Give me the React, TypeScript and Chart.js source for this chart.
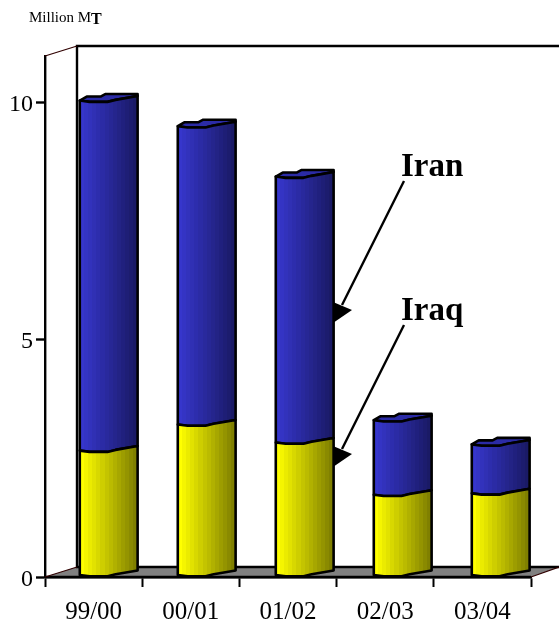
import { useEffect, useRef } from "react";
import { Chart, registerables } from "chart.js";

Chart.register(...registerables);

const seasons = ["99/00", "00/01", "01/02", "02/03", "03/04"];
const iraqValues = [2.63, 3.18, 2.8, 1.7, 1.73];
const iranValues = [7.37, 6.28, 5.6, 1.57, 1.03];

const SERIF = '"Liberation Serif", "Times New Roman", serif';

// Cylinder outline offsets, as fractions of the width and pixels above the value line.
const frontWave: [number, number][] = [[0, 1.5], [0.17, 0.2], [0.48, 0.2], [0.62, 2.2], [1, 6]];
const backWave: [number, number][] = [[1, 8], [0.44, 8], [0.36, 5.5], [0.12, 5.5], [0, 1.5]];

const DEPTH_X = 32;
const DEPTH_Y = 10;
const BAR_SHIFT = 14.7;
const BAR_PITCH = 98 / 97.2;

function banded(ctx: CanvasRenderingContext2D, x: number, w: number, from: number[], to: number[]) {
  const g = ctx.createLinearGradient(x, 0, x + w, 0);
  const bands = 14;
  for (let i = 0; i < bands; i++) {
    const t = i / (bands - 1);
    const c = from.map((v, k) => Math.round(v + (to[k] - v) * t));
    const css = `rgb(${c[0]},${c[1]},${c[2]})`;
    g.addColorStop(i / bands, css);
    g.addColorStop((i + 1) / bands, css);
  }
  return g;
}

function drawCylinder(
  ctx: CanvasRenderingContext2D,
  x: number,
  w: number,
  top: number,
  bottom: number,
  from: number[],
  to: number[],
  withCap: boolean,
) {
  ctx.save();
  ctx.lineJoin = "round";
  ctx.strokeStyle = "#000";
  ctx.lineWidth = 2.6;

  const wave = (y: number, reverse = false) => {
    const pts = reverse ? [...frontWave].reverse() : frontWave;
    pts.forEach(([fx, dy]) => ctx.lineTo(x + fx * w, y - dy));
  };

  if (withCap) {
    ctx.beginPath();
    ctx.moveTo(x, top - frontWave[0][1]);
    wave(top);
    backWave.forEach(([fx, dy]) => ctx.lineTo(x + fx * w, top - dy));
    ctx.closePath();
    ctx.fillStyle = "#2b2ba6";
    ctx.fill();
    ctx.stroke();
  }

  ctx.beginPath();
  ctx.moveTo(x, top - frontWave[0][1]);
  wave(top);
  wave(bottom, true);
  ctx.closePath();
  ctx.fillStyle = banded(ctx, x, w, from, to);
  ctx.fill();
  ctx.stroke();
  ctx.restore();
}

const cylinderPlugin = {
  id: "cylinders",
  beforeDatasetsDraw(chart: Chart) {
    const { ctx, chartArea: a } = chart;
    const left = a.left;
    const bottom = a.bottom;
    const floorTop = bottom - DEPTH_Y;
    const wallTop = a.top - DEPTH_Y;
    ctx.save();
    ctx.fillStyle = "#808080";
    ctx.beginPath();
    ctx.moveTo(left, bottom);
    ctx.lineTo(left + DEPTH_X, floorTop);
    ctx.lineTo(559, floorTop);
    ctx.lineTo(a.right, bottom);
    ctx.closePath();
    ctx.fill();

    ctx.strokeStyle = "#000";
    ctx.lineWidth = 2.4;
    ctx.beginPath();
    ctx.moveTo(559, wallTop);
    ctx.lineTo(left + DEPTH_X, wallTop);
    ctx.lineTo(left + DEPTH_X, floorTop);
    ctx.lineTo(559, floorTop);
    ctx.moveTo(left, bottom);
    ctx.lineTo(a.right, bottom);
    ctx.stroke();

    ctx.lineWidth = 1.2;
    ctx.strokeStyle = "#300000";
    ctx.beginPath();
    ctx.moveTo(left, a.top);
    ctx.lineTo(left + DEPTH_X, wallTop);
    ctx.moveTo(left, bottom);
    ctx.lineTo(left + DEPTH_X, floorTop);
    ctx.moveTo(a.right, bottom);
    ctx.lineTo(559, floorTop);
    ctx.stroke();
    ctx.restore();
  },
  beforeDatasetDraw(chart: Chart, args: { index: number }) {
    const { ctx, chartArea: a } = chart;
    const meta = chart.getDatasetMeta(args.index);
    const isIran = args.index === 1;
    meta.data.forEach((el: any) => {
      const x = a.left + (el.x - a.left) * BAR_PITCH + BAR_SHIFT - el.width / 2;
      drawCylinder(
        ctx,
        x,
        el.width,
        el.y,
        el.base,
        isIran ? [54, 54, 204] : [255, 255, 0],
        isIran ? [26, 26, 102] : [128, 128, 0],
        isIran,
      );
    });
    return false;
  },
  afterDatasetsDraw(chart: Chart) {
    const { ctx } = chart;
    const yScale = chart.scales.y;
    ctx.save();
    ctx.fillStyle = "#000";

    // Value axis labels sit a little below their tick marks
    ctx.font = `24px ${SERIF}`;
    ctx.textAlign = "right";
    ctx.textBaseline = "middle";
    yScale.ticks.forEach((t: any) => {
      ctx.fillText(String(t.value), 33, yScale.getPixelForValue(t.value) + 2.5);
    });

    ctx.textBaseline = "alphabetic";
    ctx.textAlign = "left";

    // Unit caption
    ctx.font = `15px ${SERIF}`;
    ctx.fillText("Million M", 29, 22);
    const w = ctx.measureText("Million M").width;
    ctx.font = `bold 16px ${SERIF}`;
    ctx.fillText("T", 29 + w, 23.5);

    // Series call-outs
    ctx.font = `bold 33px ${SERIF}`;
    ctx.fillText("Iran", 401, 176);
    ctx.fillText("Iraq", 401, 320);

    ctx.strokeStyle = "#000";
    ctx.lineWidth = 2.4;
    [0, 144].forEach((dy) => {
      ctx.beginPath();
      ctx.moveTo(404, 181 + dy);
      ctx.lineTo(342, 305 + dy);
      ctx.stroke();
      ctx.beginPath();
      ctx.moveTo(333, 302 + dy);
      ctx.lineTo(352, 310 + dy);
      ctx.lineTo(333, 323 + dy);
      ctx.closePath();
      ctx.fill();
    });
    ctx.restore();
  },
};

export default function App() {
  const ref = useRef<HTMLCanvasElement>(null);

  useEffect(() => {
    if (!ref.current) return;
    const chart = new Chart(ref.current, {
      type: "bar",
      data: {
        labels: seasons,
        datasets: [
          { label: "Iraq", data: iraqValues, backgroundColor: "#ffff00" },
          { label: "Iran", data: iranValues, backgroundColor: "#2b2ba6" },
        ],
      },
      options: {
        responsive: false,
        animation: false,
        layout: { padding: { top: 56, right: 28, left: 0, bottom: 0 } },
        datasets: { bar: { barPercentage: 0.595, categoryPercentage: 1 } },
        plugins: { legend: { display: false }, tooltip: { enabled: false } },
        scales: {
          x: {
            stacked: true,
            afterFit: (s: any) => {
              s.height = 44;
            },
            grid: { drawOnChartArea: false, tickLength: 10, tickColor: "#000", tickWidth: 2 },
            border: { color: "#000", width: 2.4 },
            ticks: {
              color: "#000",
              font: { family: SERIF, size: 25 },
              padding: 10,
              autoSkip: false,
              maxRotation: 0,
            },
          },
          y: {
            stacked: true,
            min: 0,
            max: 10.97,
            afterFit: (s: any) => {
              s.width = 45;
            },
            grid: { drawOnChartArea: false, tickLength: 9, tickColor: "#000", tickWidth: 2.4 },
            border: { color: "#000", width: 2.4 },
            ticks: {
              stepSize: 5,
              includeBounds: false,
              display: false,
            },
          },
        },
      },
      plugins: [cylinderPlugin],
    });
    return () => chart.destroy();
  }, []);

  return (
    <canvas
      ref={ref}
      width={559}
      height={621}
      style={{ position: "absolute", left: 0, top: 0, display: "block" }}
    />
  );
}
